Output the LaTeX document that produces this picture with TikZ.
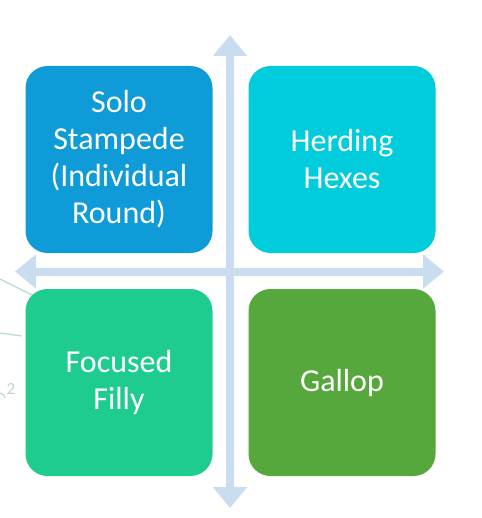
\documentclass[tikz,border=0pt]{standalone}
\usepackage{fontspec}
\setmainfont{Carlito}
\usetikzlibrary{arrows.meta}
\definecolor{cTL}{HTML}{0E9BD8}
\definecolor{cTR}{HTML}{00CCDC}
\definecolor{cBL}{HTML}{1ECC8E}
\definecolor{cBR}{HTML}{56A83C}
\definecolor{axiscol}{HTML}{C9DCF0}
\definecolor{faint}{HTML}{BCD7CB}
\tikzset{
  quadbox/.style={draw=none, rounded corners=22pt, minimum width=187pt, minimum height=187pt,
    text=white, align=center, inner sep=0pt,
    font=\fontsize{32}{37}\selectfont},
  axisline/.style={draw=axiscol, line width=8pt,
    {Triangle[width=33pt,length=21pt]}-{Triangle[width=33pt,length=21pt]}},
  faintline/.style={draw=faint, line width=1.2pt}
}
\begin{document}
\begin{tikzpicture}[x=1pt,y=-1pt]
\useasboundingbox (0,0) rectangle (481,518);
% faint background marks at left edge
\coordinate (f1a) at (0,279);
\coordinate (f1b) at (34,296);
\coordinate (f2a) at (0,333);
\coordinate (f2b) at (22,336);
\draw[faintline] (f1a) -- (f1b);
\draw[faintline] (f2a) -- (f2b);
\node[text=faint, font=\fontsize{17}{17}\selectfont, inner sep=0pt] (two) at (11,389) {2};
\draw[faintline] (5,398) arc[start angle=-10, end angle=-120, radius=6];
% axes
\coordinate (vtop) at (230,35);
\coordinate (vbot) at (230,508);
\coordinate (hl) at (15,271.5);
\coordinate (hr) at (444,271.5);
\draw[axisline] (vbot) -- (vtop);
\draw[axisline] (hl) -- (hr);
% quadrants
\node[quadbox, fill=cTL] (tl) at (119,159.5) {Solo\\Stampede\\(Individual\\Round)};
\node[quadbox, fill=cTR] (tr) at (342,159.5) {Herding\\Hexes};
\node[quadbox, fill=cBL] (bl) at (119,382.5) {Focused\\Filly};
\node[quadbox, fill=cBR] (br) at (342,382.5) {Gallop};
\end{tikzpicture}
\end{document}
